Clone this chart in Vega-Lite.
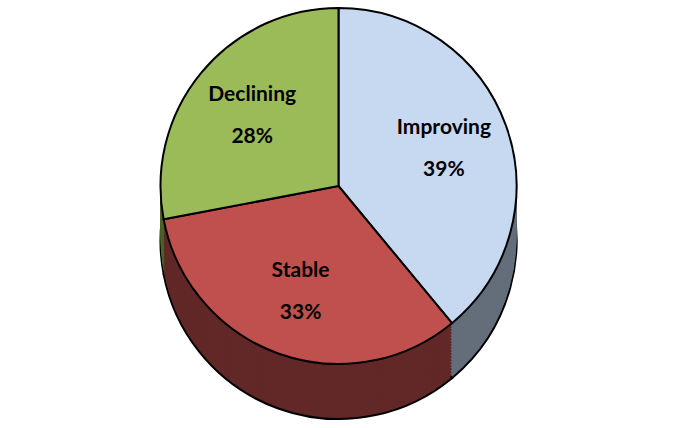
{
  "$schema": "https://vega.github.io/schema/vega-lite/v6.json",
  "autosize": {"type": "fit", "contains": "padding"},
  "width": 677,
  "height": 428,
  "background": "white",
  "view": {"stroke": null},
  "data": {
    "values": [
      {"status": "Improving", "share": 0.39, "order": 1},
      {"status": "Stable", "share": 0.33, "order": 2},
      {"status": "Declining", "share": 0.28, "order": 3}
    ]
  },
  "encoding": {
    "theta": {"field": "share", "type": "quantitative", "stack": true},
    "order": {"field": "order", "type": "ordinal"},
    "color": {
      "field": "status", "type": "nominal", "legend": null,
      "scale": {"domain": ["Improving", "Stable", "Declining"], "range": ["#646e7b", "#622828", "#4f6228"]}
    }
  },
  "layer": [
    {"mark": {"type": "arc", "outerRadius": 178, "yOffset": 27, "stroke": "black", "strokeWidth": 2}},
    {"mark": {"type": "arc", "outerRadius": 178, "yOffset": 24}},
    {"mark": {"type": "arc", "outerRadius": 178, "yOffset": 21}},
    {"mark": {"type": "arc", "outerRadius": 178, "yOffset": 18}},
    {"mark": {"type": "arc", "outerRadius": 178, "yOffset": 15}},
    {"mark": {"type": "arc", "outerRadius": 178, "yOffset": 12}},
    {"mark": {"type": "arc", "outerRadius": 178, "yOffset": 9}},
    {"mark": {"type": "arc", "outerRadius": 178, "yOffset": 6}},
    {"mark": {"type": "arc", "outerRadius": 178, "yOffset": 3}},
    {"mark": {"type": "arc", "outerRadius": 178, "yOffset": 0}},
    {"mark": {"type": "arc", "outerRadius": 178, "yOffset": -3}},
    {"mark": {"type": "arc", "outerRadius": 178, "yOffset": -6}},
    {"mark": {"type": "arc", "outerRadius": 178, "yOffset": -9}},
    {"mark": {"type": "arc", "outerRadius": 178, "yOffset": -12}},
    {"mark": {"type": "arc", "outerRadius": 178, "yOffset": -15}},
    {"mark": {"type": "arc", "outerRadius": 178, "yOffset": -18}},
    {"mark": {"type": "arc", "outerRadius": 178, "yOffset": -21}},
    {"mark": {"type": "arc", "outerRadius": 178, "yOffset": -24}},
    {
      "mark": {"type": "arc", "outerRadius": 178, "yOffset": -28, "stroke": "black", "strokeWidth": 2},
      "encoding": {
        "fill": {
          "field": "status", "type": "nominal", "legend": null,
          "scale": {"domain": ["Improving", "Stable", "Declining"], "range": ["#c6d9f1", "#c0504d", "#9bbb59"]}
        }
      }
    },
    {
      "mark": {"type": "text", "radius": 112, "yOffset": -28, "dy": -20, "font": "Lato", "fontWeight": "bold", "fontSize": 21, "color": "black", "letterSpacing": 1},
      "encoding": {
        "color": {"value": "black"},
        "text": {"field": "status", "type": "nominal"}
      }
    },
    {
      "mark": {"type": "text", "radius": 112, "yOffset": -28, "dy": 22, "font": "Lato", "fontWeight": "bold", "fontSize": 21, "color": "black", "letterSpacing": 1},
      "encoding": {
        "color": {"value": "black"},
        "text": {"field": "share", "type": "quantitative", "format": ".0%"}
      }
    }
  ]
}
